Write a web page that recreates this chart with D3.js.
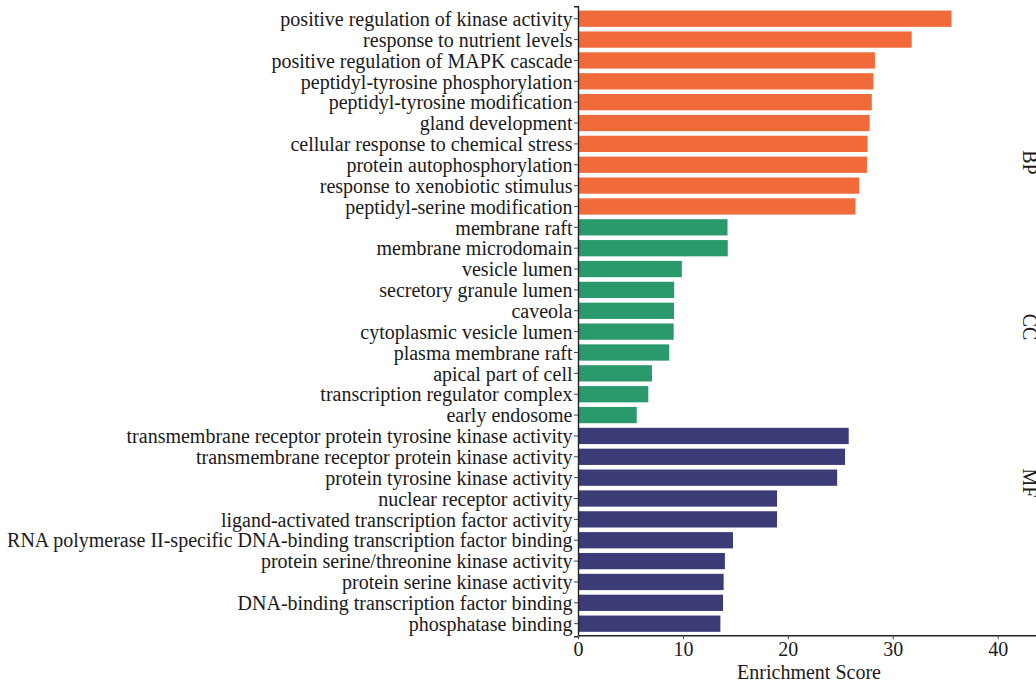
<!DOCTYPE html>
<html>
<head>
<meta charset="utf-8">
<script src="https://cdn.jsdelivr.net/npm/d3@7"></script>
<style>
  html, body { margin: 0; padding: 0; background: #fff; }
  svg { display: block; font-family: "Liberation Serif", "Times New Roman", serif; }
</style>
</head>
<body>
<svg id="chart" width="1036" height="683"></svg>
<script>
// GO enrichment terms, top to bottom
const bpTerms = [
  "positive regulation of kinase activity",
  "response to nutrient levels",
  "positive regulation of MAPK cascade",
  "peptidyl-tyrosine phosphorylation",
  "peptidyl-tyrosine modification",
  "gland development",
  "cellular response to chemical stress",
  "protein autophosphorylation",
  "response to xenobiotic stimulus",
  "peptidyl-serine modification"
];
const bpScores = [35.6, 31.8, 28.3, 28.15, 28.0, 27.8, 27.6, 27.55, 26.8, 26.45];

const ccTerms = [
  "membrane raft",
  "membrane microdomain",
  "vesicle lumen",
  "secretory granule lumen",
  "caveola",
  "cytoplasmic vesicle lumen",
  "plasma membrane raft",
  "apical part of cell",
  "transcription regulator complex",
  "early endosome"
];
const ccScores = [14.25, 14.27, 9.9, 9.17, 9.15, 9.12, 8.7, 7.05, 6.7, 5.6];

const mfTerms = [
  "transmembrane receptor protein tyrosine kinase activity",
  "transmembrane receptor protein kinase activity",
  "protein tyrosine kinase activity",
  "nuclear receptor activity",
  "ligand-activated transcription factor activity",
  "RNA polymerase II-specific DNA-binding transcription factor binding",
  "protein serine/threonine kinase activity",
  "protein serine kinase activity",
  "DNA-binding transcription factor binding",
  "phosphatase binding"
];
const mfScores = [25.8, 25.45, 24.7, 18.97, 18.97, 14.77, 14.0, 13.88, 13.82, 13.57];

const ontologies = ["BP", "CC", "MF"];
const ontologyColors = ["#F06A3A", "#2A9A6D", "#3B3B78"];
const xTicks = [0, 10, 20, 30, 40];
const xTitle = "Enrichment Score";

// combined rows
const rows = [];
[[bpTerms, bpScores], [ccTerms, ccScores], [mfTerms, mfScores]].forEach(([terms, scores], g) => {
  terms.forEach((t, i) => rows.push({ term: t, score: scores[i], ont: ontologies[g] }));
});

const svg = d3.select("#chart");
const plotLeft = 578, plotTop = 6.2, plotBottom = 636.2, plotRight = 1036;
const fontSize = 20;

const x = d3.scaleLinear().domain([0, 43.65]).range([plotLeft, plotRight]);
const y = d3.scaleBand().domain(rows.map(d => d.term)).range([plotTop, plotBottom])
  .paddingInner(0.22).paddingOuter(0.21);
const color = d3.scaleOrdinal().domain(ontologies).range(ontologyColors);

// bars
svg.append("g").selectAll("rect").data(rows).join("rect")
  .attr("x", x(0))
  .attr("y", d => y(d.term))
  .attr("width", d => x(d.score) - x(0))
  .attr("height", y.bandwidth())
  .attr("fill", d => color(d.ont));

// y axis
const yAxis = svg.append("g").attr("transform", `translate(${plotLeft},0)`)
  .call(d3.axisLeft(y).tickSize(4).tickPadding(1.5));
yAxis.select(".domain").attr("stroke", "#222").attr("stroke-width", 1.4);
yAxis.selectAll(".tick line").attr("stroke", "#444");
yAxis.selectAll(".tick text")
  .attr("font-size", fontSize).attr("fill", "#1a1a1a")
  .attr("font-family", "Liberation Serif, serif")
  .attr("dy", "0.36em");

// x axis
const xAxis = svg.append("g").attr("transform", `translate(0,${plotBottom - 1})`)
  .call(d3.axisBottom(x).tickValues(xTicks).tickSize(4).tickPadding(3).tickSizeOuter(0));
xAxis.select(".domain").attr("stroke", "#222").attr("stroke-width", 1.4);
xAxis.selectAll(".tick line").attr("stroke", "#444");
xAxis.selectAll(".tick text")
  .attr("font-size", fontSize).attr("fill", "#1a1a1a")
  .attr("font-family", "Liberation Serif, serif");

// axis title
svg.append("text")
  .attr("x", (plotLeft + plotRight) / 2 + 2)
  .attr("y", 679)
  .attr("text-anchor", "middle")
  .attr("font-size", fontSize).attr("fill", "#1a1a1a")
  .text(xTitle);

// facet strip labels
const stripY = [162.5, 327, 483];
ontologies.forEach((o, i) => {
  svg.append("text")
    .attr("transform", `translate(1023,${stripY[i]}) rotate(90)`)
    .attr("text-anchor", "middle")
    .attr("font-size", fontSize).attr("fill", "#1a1a1a")
    .text(o);
});
</script>
</body>
</html>
